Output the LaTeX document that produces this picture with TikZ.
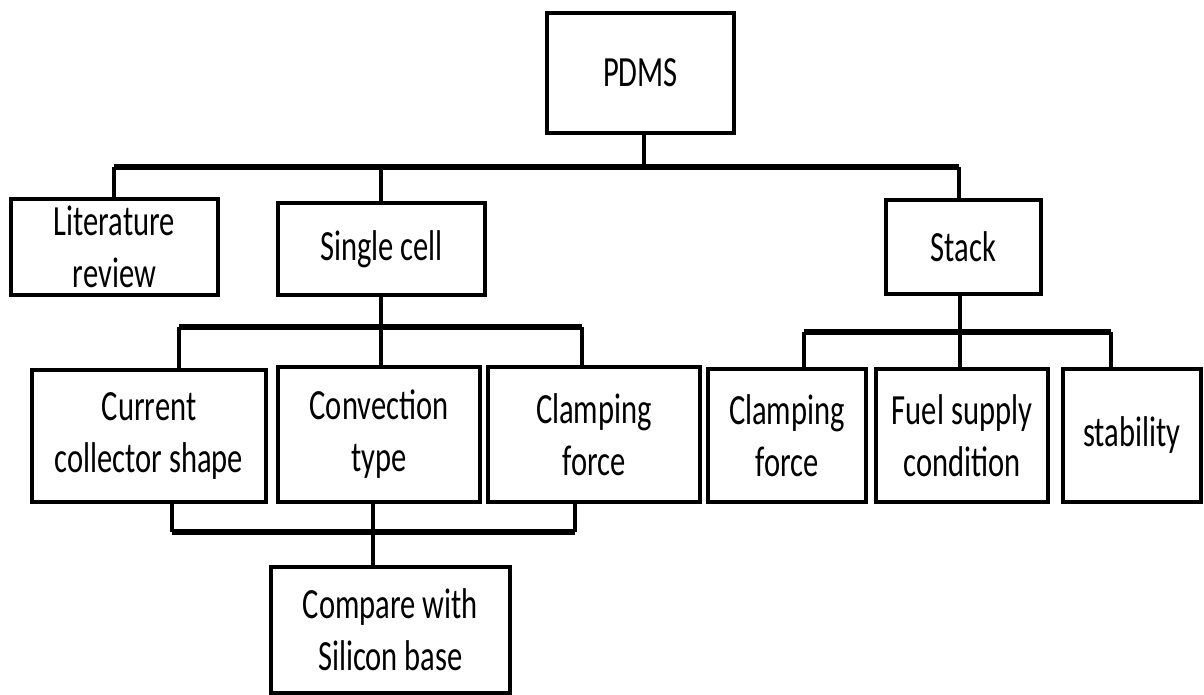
\documentclass[tikz,border=0pt]{standalone}
\usepackage{fontspec}
\setmainfont{Carlito}[FakeStretch=0.71]
\usetikzlibrary{positioning}

\tikzset{
  box/.style={draw, line width=2.3pt, inner sep=0pt, align=center,
    font=\fontsize{24.5}{29.6}\selectfont},
  bus/.style={line width=3.4pt},
  wire/.style={line width=2pt},
}

\begin{document}
\begin{tikzpicture}[x=0.02cm, y=-0.02cm]
			% Boxes, buses and wires:
			\useasboundingbox (0,0) rectangle (1204,695);
			\node[box, minimum width=3.74cm, minimum height=2.40cm](pdms) at (640.5,73){PDMS};
			\node[box, minimum width=4.14cm, minimum height=1.92cm](lit) at (114.5,247){Literature\\review};
			\node[box, minimum width=4.14cm, minimum height=1.84cm](single) at (381.5,249){Single cell};
			\node[box, minimum width=3.10cm, minimum height=1.88cm](stack) at (963.5,247){Stack};
			\node[box, minimum width=4.68cm, minimum height=2.64cm](cur) at (149,436){Current\\collector shape};
			\node[box, minimum width=4.04cm, minimum height=2.70cm](conv) at (379,434.5){Convection\\type};
			\node[box, minimum width=4.24cm, minimum height=2.70cm](clampA) at (594,434.5){Clamping\\force};
			\node[box, minimum width=3.16cm, minimum height=2.66cm](clampB) at (787,435.5){Clamping\\force};
			\node[box, minimum width=3.44cm, minimum height=2.66cm](fuel) at (962,435.5){Fuel supply\\condition};
			\node[box, minimum width=2.76cm, minimum height=2.66cm](stab) at (1132,435.5){stability};
			\node[box, minimum width=4.78cm, minimum height=2.52cm](cmp) at (390.5,630){Compare with\\Silicon base};
			% top bus
			\coordinate (jL) at (114,167);
			\coordinate (jS) at (381,167);
			\coordinate (jP) at (644,167);
			\coordinate (jK) at (959,167);
			\draw[bus] (jL) -- (jK);
			\draw[wire] (jP) -- (jP |- pdms.south);
			\draw[wire] (jL) -- (jL |- lit.north);
			\draw[wire] (jS) -- (jS |- single.north);
			\draw[wire] (jK) -- (jK |- stack.north);
			% single cell bus
			\coordinate (kL) at (179,327);
			\coordinate (kC) at (381,327);
			\coordinate (kR) at (582,327);
			\draw[bus] (kL) -- (kR);
			\draw[wire] (kC |- single.south) -- (kC |- conv.north);
			\draw[wire] (kL) -- (kL |- cur.north);
			\draw[wire] (kR) -- (kR |- clampA.north);
			% lower bus
			\coordinate (mL) at (172,532);
			\coordinate (mC) at (373,532);
			\coordinate (mR) at (575,532);
			\draw[bus] (mL) -- (mR);
			\draw[wire] (mL) -- (mL |- cur.south);
			\draw[wire] (mR) -- (mR |- clampA.south);
			\draw[wire] (mC |- conv.south) -- (mC |- cmp.north);
			% stack bus
			\coordinate (sL) at (804,332);
			\coordinate (sC) at (960,332);
			\coordinate (sR) at (1111,332);
			\draw[bus] (sL) -- (sR);
			\draw[wire] (sC |- stack.south) -- (sC |- fuel.north);
			\draw[wire] (sL) -- (sL |- clampB.north);
			\draw[wire] (sR) -- (sR |- stab.north);
		\end{tikzpicture}
\end{document}
